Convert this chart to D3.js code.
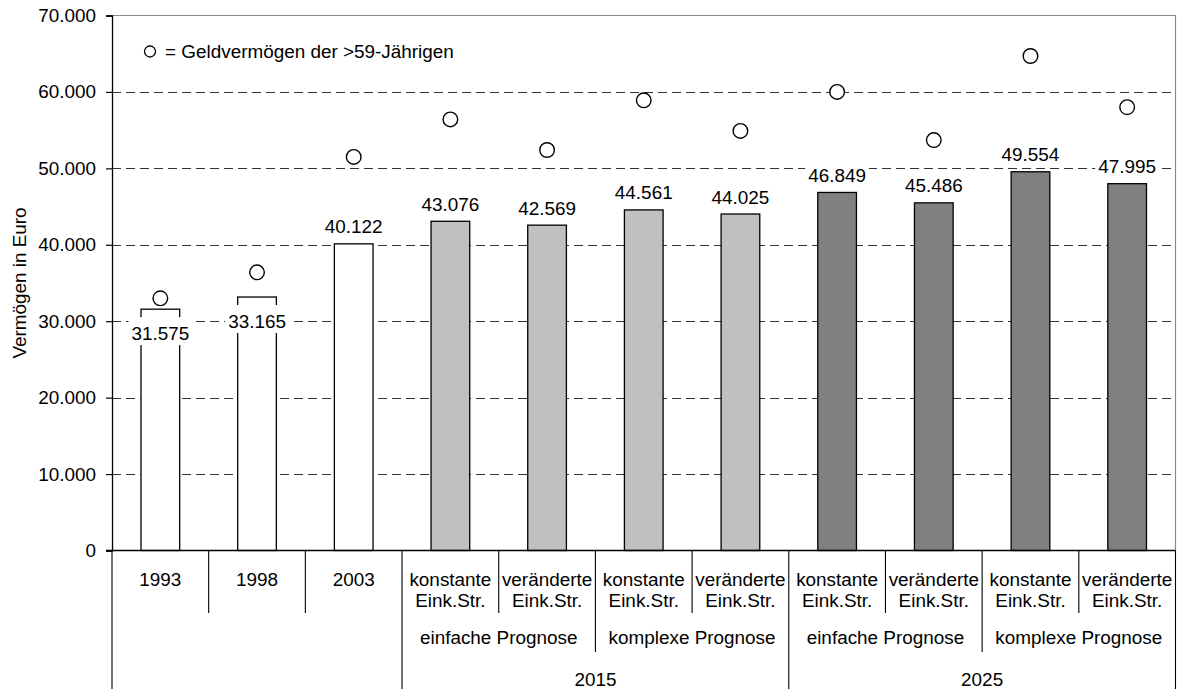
<!DOCTYPE html>
<html>
<head>
<meta charset="utf-8">
<script src="https://cdn.jsdelivr.net/npm/d3@7/dist/d3.min.js"></script>
<style>
  html, body { margin: 0; padding: 0; background: #fff; }
  svg { display: block; }
  text { font-family: "Liberation Sans", Arial, sans-serif; fill: #000; }
</style>
</head>
<body>
<svg id="chart" width="1178" height="689"></svg>
<script>
// ---- Data ----
const categoryLines = [
  ["1993"], ["1998"], ["2003"],
  ["konstante", "Eink.Str."], ["veränderte", "Eink.Str."],
  ["konstante", "Eink.Str."], ["veränderte", "Eink.Str."],
  ["konstante", "Eink.Str."], ["veränderte", "Eink.Str."],
  ["konstante", "Eink.Str."], ["veränderte", "Eink.Str."]
];
const prognoseLabels = ["", "", "",
  "einfache Prognose", "einfache Prognose", "komplexe Prognose", "komplexe Prognose",
  "einfache Prognose", "einfache Prognose", "komplexe Prognose", "komplexe Prognose"];
const yearLabels = ["", "", "", "2015", "2015", "2015", "2015", "2025", "2025", "2025", "2025"];
const barValues = [31575, 33165, 40122, 43076, 42569, 44561, 44025, 46849, 45486, 49554, 47995];
const circleValues = [33000, 36400, 51500, 56400, 52400, 58900, 54900, 60000, 53700, 64700, 58000];
const barGroups = ["hist", "hist", "hist", "2015", "2015", "2015", "2015", "2025", "2025", "2025", "2025"];
const yTicks = [0, 10000, 20000, 30000, 40000, 50000, 60000, 70000];
const yTitle = "Vermögen in Euro";
const legendText = "= Geldvermögen der >59-Jährigen";

(function () {
// ---- Setup ----
const svg = d3.select("#chart");
const FS = 18.9;
const pLeft = 112, pRight = 1175.5, pTop = 15.5, pBottom = 550.5;
const locale = d3.formatLocale({ decimal: ",", thousands: ".", grouping: [3], currency: ["", "€"] });
const fmt = locale.format(",d");

const idx = d3.range(barValues.length);
const x = d3.scaleBand().domain(idx).range([pLeft, pRight]).padding(0);
const bw = x.bandwidth();
const barW = bw * 0.4;
const y = d3.scaleLinear().domain([0, 70000]).range([pBottom, pTop]);
const color = d3.scaleOrdinal().domain(["hist", "2015", "2025"]).range(["#ffffff", "#c0c0c0", "#808080"]);

// gridlines
svg.append("g").selectAll("line")
  .data(yTicks.filter(t => t > 0 && t < 70000))
  .join("line")
  .attr("x1", pLeft).attr("x2", pRight)
  .attr("y1", d => Math.round(y(d)) + 0.5).attr("y2", d => Math.round(y(d)) + 0.5)
  .attr("stroke", "#333").attr("stroke-width", 1).attr("stroke-dasharray", "9,5");

// plot border (top/right grey)
svg.append("path")
  .attr("d", `M${pLeft},${pTop}H${pRight}V${pBottom}`)
  .attr("fill", "none").attr("stroke", "#888").attr("stroke-width", 1.2);

// y axis
const yAxis = d3.axisLeft(y).tickValues(yTicks).tickFormat(fmt).tickSize(6).tickPadding(10);
const gy = svg.append("g").attr("transform", `translate(${pLeft},0)`).call(yAxis);
gy.select(".domain").attr("stroke", "#000").attr("stroke-width", 1.3);
gy.selectAll(".tick line").attr("stroke", "#000").attr("stroke-width", 1.2);
gy.selectAll(".tick text").style("font-size", FS + "px").style("font-family", "Liberation Sans, Arial, sans-serif").attr("fill", "#000");

// y title
svg.append("text")
  .attr("transform", `translate(26,${(pTop + pBottom) / 2}) rotate(-90)`)
  .attr("text-anchor", "middle")
  .style("font-size", FS + "px")
  .text(yTitle);

// bars
svg.append("g").selectAll("rect")
  .data(idx)
  .join("rect")
  .attr("x", i => x(i) + (bw - barW) / 2)
  .attr("width", barW)
  .attr("y", i => y(barValues[i]))
  .attr("height", i => y(0) - y(barValues[i]))
  .attr("fill", i => color(barGroups[i]))
  .attr("stroke", "#000").attr("stroke-width", 1.3);

// value labels
const labG = svg.append("g");
idx.forEach(i => {
  const cx = x(i) + bw / 2;
  const topY = y(barValues[i]);
  const inside = (circleValues[i] - barValues[i]) < 5000;
  const base = inside ? topY + 31 : topY - 10.5;
  const t = labG.append("text")
    .attr("x", cx).attr("y", base)
    .attr("text-anchor", "middle")
    .style("font-size", FS + "px")
    .text(fmt(barValues[i]));
  const bb = t.node().getBBox();
  labG.insert("rect", "text")
    .attr("x", bb.x - 3).attr("width", bb.width + 6)
    .attr("y", base - 23).attr("height", 28)
    .attr("fill", "#fff");
});

// circles
svg.append("g").selectAll("circle")
  .data(idx)
  .join("circle")
  .attr("cx", i => x(i) + bw / 2)
  .attr("cy", i => y(circleValues[i]))
  .attr("r", 7.3)
  .attr("fill", "#fff").attr("stroke", "#000").attr("stroke-width", 1.4);

// legend
svg.append("circle").attr("cx", 150).attr("cy", 51.5).attr("r", 5.5)
  .attr("fill", "#fff").attr("stroke", "#000").attr("stroke-width", 1.3);
svg.append("text").attr("x", 165).attr("y", 58).style("font-size", FS + "px").text(legendText);

// category axis line
svg.append("line").attr("x1", pLeft - 6).attr("x2", pRight)
  .attr("y1", pBottom).attr("y2", pBottom)
  .attr("stroke", "#000").attr("stroke-width", 1.3);

// separators
const sepG = svg.append("g");
const L1 = 613, L2 = 652, L3 = 689;
for (let b = 0; b <= barValues.length; b++) {
  const xx = b < barValues.length ? x(b) : pRight;
  let yEnd;
  if (b === 0 || b === barValues.length || yearLabels[b - 1] !== yearLabels[b]) yEnd = L3;
  else if (prognoseLabels[b - 1] !== prognoseLabels[b]) yEnd = L2;
  else yEnd = L1;
  sepG.append("line").attr("x1", xx).attr("x2", xx)
    .attr("y1", pBottom).attr("y2", yEnd)
    .attr("stroke", "#000").attr("stroke-width", 1.1);
}

// level 1 labels
const catG = svg.append("g");
idx.forEach(i => {
  const t = catG.append("text").attr("text-anchor", "middle").style("font-size", FS + "px");
  categoryLines[i].forEach((ln, k) => {
    t.append("tspan").attr("x", x(i) + bw / 2).attr("y", 586 + k * 21).text(ln);
  });
});

// group labels (level 2 and 3)
function groupSpans(labels) {
  const spans = [];
  labels.forEach((l, i) => {
    if (!l) return;
    const last = spans[spans.length - 1];
    if (last && last.label === l && last.end === i - 1) last.end = i;
    else spans.push({ label: l, start: i, end: i });
  });
  return spans;
}
groupSpans(prognoseLabels).forEach(s => {
  catG.append("text").attr("text-anchor", "middle").style("font-size", FS + "px")
    .attr("x", (x(s.start) + x(s.end) + bw) / 2).attr("y", 644).text(s.label);
});
groupSpans(yearLabels).forEach(s => {
  catG.append("text").attr("text-anchor", "middle").style("font-size", FS + "px")
    .attr("x", (x(s.start) + x(s.end) + bw) / 2).attr("y", 685.5).text(s.label);
});
})();
</script>
</body>
</html>
